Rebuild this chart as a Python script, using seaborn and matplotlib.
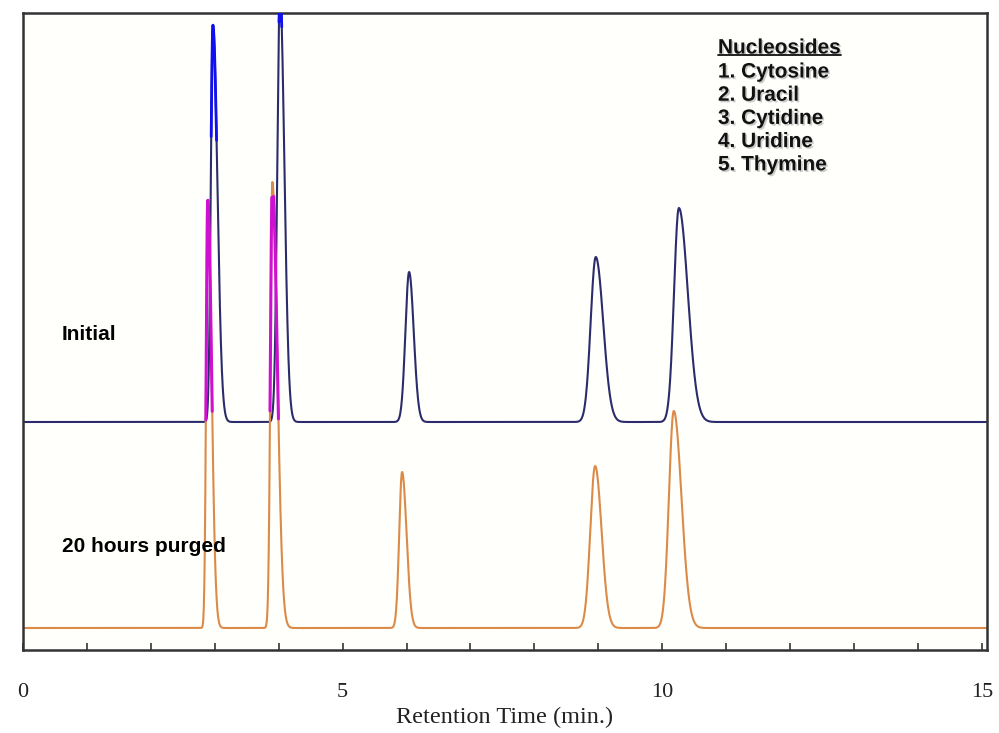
import numpy as np
import pandas as pd
import matplotlib
matplotlib.use("Agg")
import matplotlib.pyplot as plt
from matplotlib import patheffects as pe
from matplotlib.lines import Line2D
import seaborn as sns

# ---------------- data ----------------
compounds = ["1. Cytosine", "2. Uracil", "3. Cytidine", "4. Uridine", "5. Thymine"]

initial_rt = [2.97, 4.02, 6.04, 8.96, 10.26]          # min
initial_height = [397, 430, 150, 165, 214]            # detector units
initial_sig_left = [0.032, 0.042, 0.058, 0.080, 0.076]
initial_sig_right = [0.070, 0.068, 0.072, 0.116, 0.140]

purged_rt = [2.89, 3.90, 5.93, 8.95, 10.18]
purged_height = [428, 446, 156, 162, 217]
purged_sig_left = [0.025, 0.030, 0.045, 0.076, 0.076]
purged_sig_right = [0.060, 0.078, 0.070, 0.100, 0.120]

initial_offset = 228
purged_offset = 22

trace_labels = ["Initial", "20 hours purged"]
xticks_major = [0, 5, 10, 15]
xtick_labels = ["0", "5", "10", "15"]

# ---------------- build traces from peak table ----------------
t = np.arange(0, 15.1, 0.004)


def trace(rts, hs, sl, sr, offset):
    y = np.full_like(t, float(offset))
    for rt, h, a, b in zip(rts, hs, sl, sr):
        s = np.where(t < rt, a, b)
        y += h * np.exp(-0.5 * ((t - rt) / s) ** 2)
    return y


y_init = trace(initial_rt, initial_height, initial_sig_left, initial_sig_right, initial_offset)
y_purg = trace(purged_rt, purged_height, purged_sig_left, purged_sig_right, purged_offset)

df = pd.concat([
    pd.DataFrame({"time": t, "signal": y_init, "run": trace_labels[0]}),
    pd.DataFrame({"time": t, "signal": y_purg, "run": trace_labels[1]}),
])

# ---------------- figure ----------------
sns.set_theme(style="white")
plt.rcParams["font.family"] = ["Liberation Sans", "DejaVu Sans"]

fig = plt.figure(figsize=(9.99, 7.33), dpi=100)
fig.patch.set_facecolor("white")
ax = fig.add_axes([23 / 999, 1 - 650 / 733, (987 - 23) / 999, (650 - 13) / 733])
ax.set_facecolor("#fffffc")

sns.lineplot(data=df, x="time", y="signal", hue="run",
             palette={trace_labels[0]: "#2c2c6c", trace_labels[1]: "#dc8a48"},
             estimator=None, sort=False, linewidth=1.5, legend=False, ax=ax)

# magenta overlap colouring of the purged trace above the initial baseline
mag = np.where((t < 5) & (y_purg > initial_offset - 4) & (y_purg < 455), y_purg, np.nan)
ax.plot(t, mag, color="#d010d0", lw=2.2, zorder=3)
# bright blue at the top of the first two initial peaks
bb = np.where(((t < 3.5) & (y_init > 505)) | ((t > 3.5) & (t < 4.5) & (y_init > 615)), y_init, np.nan)
ax.plot(t, bb, color="#1010f0", lw=2.0, zorder=3)

ax.set_xlim(0, 15.08)
ax.set_ylim(0, 637)
ax.set_yticks([])
ax.set_ylabel("")
ax.set_xticks(xticks_major)
ax.set_xticks(np.arange(0, 16, 1), minor=True)
ax.set_xticklabels(xtick_labels, fontfamily="Liberation Serif", fontsize=16, color="#222222")
ax.tick_params(axis="x", which="both", direction="in", length=5, width=1.2,
               color="#333333", bottom=True, top=False)
ax.tick_params(axis="x", which="major", pad=24)
ax.set_xlabel("Retention Time (min.)", fontfamily="Liberation Serif", fontsize=17.5,
              color="#222222", labelpad=3)
for sp in ax.spines.values():
    sp.set_color("#333333")
    sp.set_linewidth(1.8)
    sp.set_visible(True)


def px(xp):
    return (xp - 23) / 63.93


def py(yp):
    return 650 - yp


ax.text(px(62), py(335), trace_labels[0], fontsize=15, fontweight="bold",
        va="center", ha="left", color="black")
ax.text(px(62), py(547), trace_labels[1], fontsize=15, fontweight="bold",
        va="center", ha="left", color="black")

shadow = [pe.withSimplePatchShadow(offset=(1.2, -1.2), shadow_rgbFace="#999999", alpha=0.5)]
title = ax.text(px(718), py(48), "Nucleosides", fontsize=15, fontweight="bold",
                va="center", ha="left", color="#111111", path_effects=shadow)
for i, name in enumerate(compounds):
    ax.text(px(718), py(72 + 23.2 * i), name, fontsize=15, fontweight="bold",
            va="center", ha="left", color="#111111", path_effects=shadow)

fig.canvas.draw()
bb_t = title.get_window_extent(fig.canvas.get_renderer())
ybar = bb_t.y0 + 2
fig.add_artist(Line2D([bb_t.x0 / fig.bbox.width, bb_t.x1 / fig.bbox.width],
                      [ybar / fig.bbox.height, ybar / fig.bbox.height],
                      color="#111111", lw=1.3))

fig.savefig("out.png", dpi=100)
